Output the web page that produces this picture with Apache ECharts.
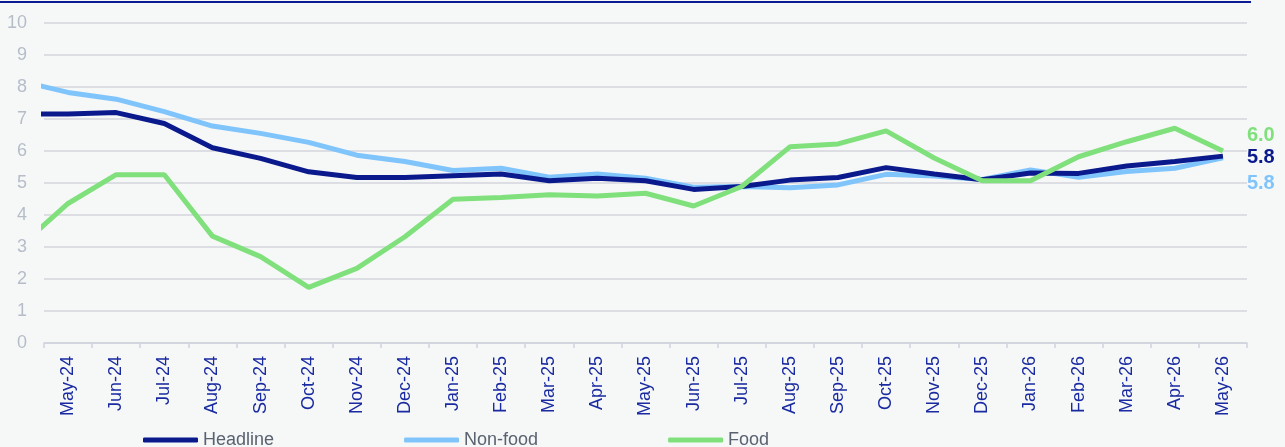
<!DOCTYPE html>
<html>
<head>
<meta charset="utf-8">
<script src="https://cdn.jsdelivr.net/npm/echarts@6/dist/echarts.min.js"></script>
<style>
html,body{margin:0;padding:0;background:#f6f8f8;}
#c{width:1285px;height:447px;}
</style>
</head>
<body>
<div id="c"></div>
<script>
const categories = ['May-24','Jun-24','Jul-24','Aug-24','Sep-24','Oct-24','Nov-24','Dec-24','Jan-25','Feb-25','Mar-25','Apr-25','May-25','Jun-25','Jul-25','Aug-25','Sep-25','Oct-25','Nov-25','Dec-25','Jan-26','Feb-26','Mar-26','Apr-26','May-26'];
const headline = [7.16,7.20,6.86,6.10,5.77,5.35,5.17,5.17,5.23,5.28,5.07,5.15,5.07,4.80,4.89,5.09,5.17,5.48,5.28,5.10,5.31,5.30,5.53,5.67,5.84];
const nonFood  = [7.83,7.62,7.23,6.78,6.55,6.27,5.87,5.67,5.39,5.46,5.18,5.28,5.15,4.87,4.89,4.85,4.94,5.27,5.22,5.11,5.41,5.18,5.36,5.46,5.79];
const food     = [4.36,5.26,5.26,3.34,2.70,1.74,2.33,3.32,4.49,4.55,4.63,4.59,4.68,4.28,4.89,6.13,6.22,6.63,5.78,5.07,5.07,5.82,6.29,6.71,6.00];
// previous month (Apr-24), only partly visible at the left edge of the plot
const priorMonth = {headline: 7.16, nonFood: 8.19, food: 3.02};
const yTicks = [0,1,2,3,4,5,6,7,8,9,10];

const colors = {headline:'#0a1a8c', nonFood:'#80c4fc', food:'#80e07c'};
const FONT = "'Liberation Sans', Arial, sans-serif";

function build(values, prior) {
  const pts = [[-1, prior]];
  values.forEach((v, i) => pts.push([i, v]));
  return pts;
}
function endLabel(color, dy) {
  return {show:true, distance:24, offset:[0, dy],
    formatter: p => Number(p.value[1]).toFixed(1),
    color: color, fontFamily: FONT, fontWeight:'bold', fontSize:20};
}

const chart = echarts.init(document.getElementById('c'), null, {renderer:'canvas'});
chart.setOption({
  backgroundColor:'#f6f8f8',
  animation:false,
  textStyle:{fontFamily:FONT},
  graphic:[{type:'rect', shape:{x:0, y:1, width:1251, height:2}, style:{fill:'#0c1a94'}}],
  grid:{left:44, right:38, top:23, bottom:104, containLabel:false},
  legend:{
    data:['Headline','Non-food','Food'],
    left:138, top:426, itemWidth:55, itemHeight:5, itemGap:130, icon:'roundRect',
    textStyle:{color:'#5a6270', fontSize:18, fontFamily:FONT}
  },
  xAxis:[
    {type:'category', data:categories, boundaryGap:true,
     axisLine:{show:true, lineStyle:{color:'#d0d3dc', width:1.5}},
     axisTick:{show:true, length:5, lineStyle:{color:'#d0d3dc', width:1.5}},
     axisLabel:{rotate:90, margin:13, color:'#1a2aa0', fontSize:18, fontFamily:FONT, interval:0},
     splitLine:{show:false}},
    {type:'value', min:-0.5, max:categories.length - 0.5, show:false}
  ],
  yAxis:{type:'value', min:yTicks[0], max:yTicks[yTicks.length-1], interval:1,
    axisLine:{show:false}, axisTick:{show:false},
    axisLabel:{color:'#b6bdc9', fontSize:18, margin:17, fontFamily:FONT},
    splitLine:{show:true, lineStyle:{color:'#d3d6de', width:1.5}}},
  series:[
    {name:'Non-food', type:'line', xAxisIndex:1, data:build(nonFood, priorMonth.nonFood),
     symbol:'none', clip:true, lineStyle:{color:colors.nonFood, width:5}, itemStyle:{color:colors.nonFood},
     endLabel:endLabel(colors.nonFood, 26), z:2},
    {name:'Headline', type:'line', xAxisIndex:1, data:build(headline, priorMonth.headline),
     symbol:'none', clip:true, lineStyle:{color:colors.headline, width:5}, itemStyle:{color:colors.headline},
     endLabel:endLabel(colors.headline, 1), z:3},
    {name:'Food', type:'line', xAxisIndex:1, data:build(food, priorMonth.food),
     symbol:'none', clip:true, lineStyle:{color:colors.food, width:5}, itemStyle:{color:colors.food},
     endLabel:endLabel(colors.food, -16), z:4}
  ]
});
</script>
</body>
</html>
